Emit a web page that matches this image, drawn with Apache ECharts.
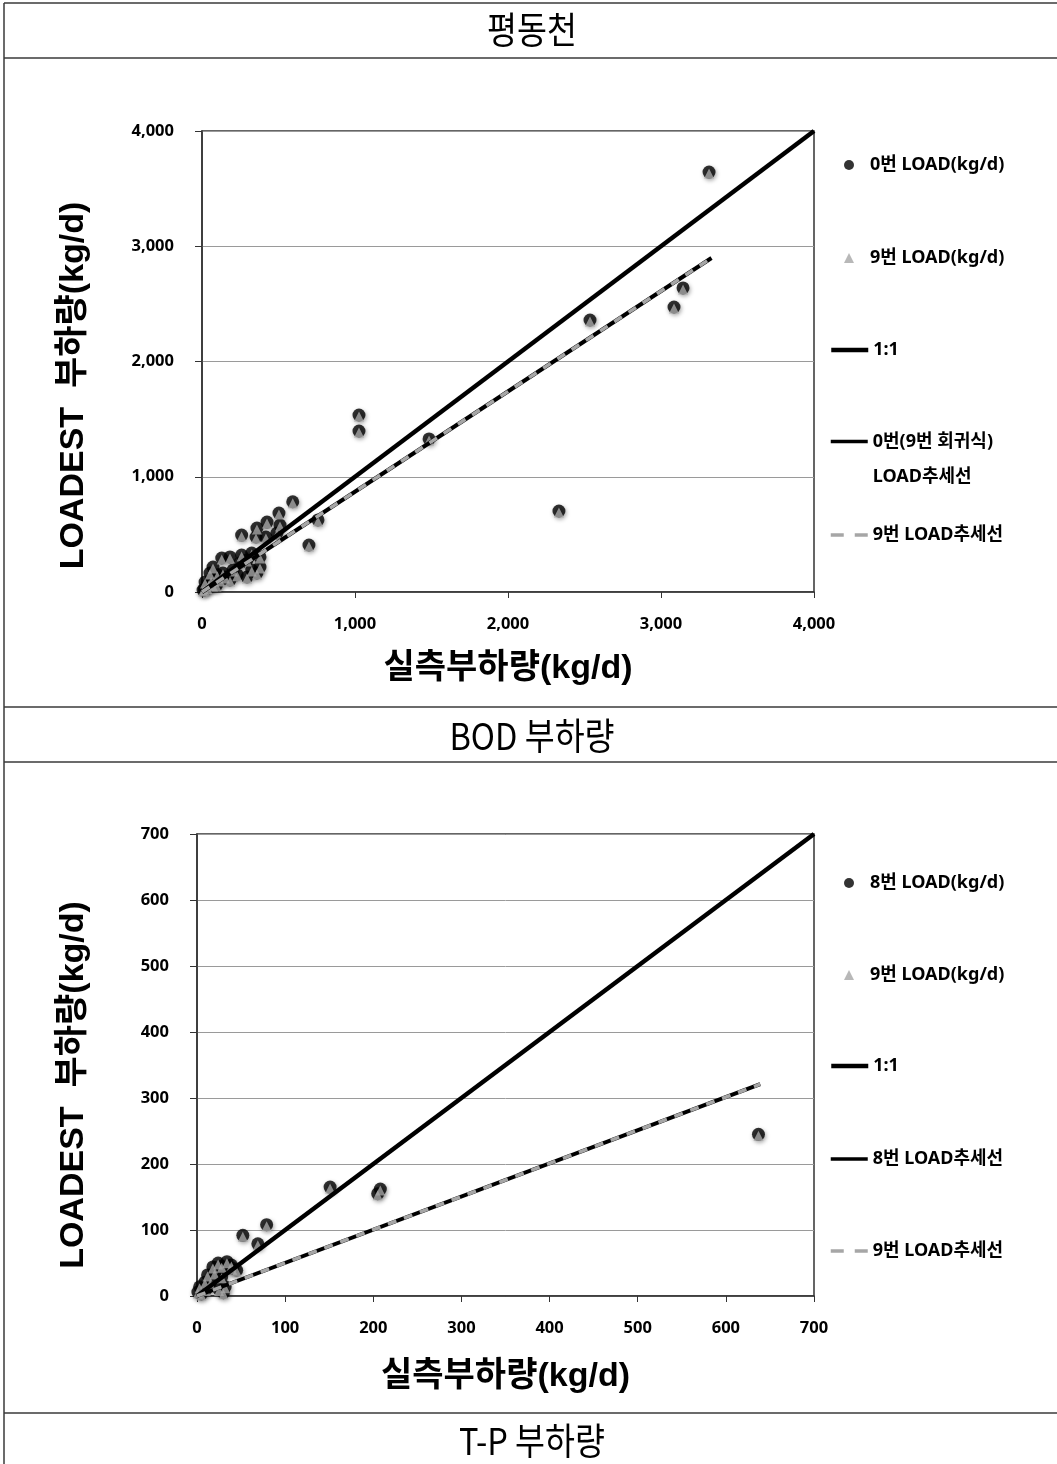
<!DOCTYPE html>
<html>
<head>
<meta charset="utf-8">
<script src="https://cdn.jsdelivr.net/npm/echarts@6/dist/echarts.min.js"></script>
<style>
  html, body { margin: 0; padding: 0; background: #fff; }
  #chart { width: 1057px; height: 1464px; }
</style>
</head>
<body>
<div id="chart"></div>
<script>
// 평동천 – BOD load: observed load vs LOADEST estimate (kg/d)
const bodObserved = [3314, 2536, 3085, 3144, 2333, 1484, 1026, 1026, 758, 699, 593, 503, 425, 359, 259, 490, 418, 353, 510,
  129, 183, 259, 325, 379, 379, 325, 72, 52, 20, 7, 137, 203, 248, 294, 118, 183, 72, 294, 359, 35, 95, 150, 230, 100, 60, 15, 45];
const bodEst0 = [3644, 2360, 2473, 2638, 703, 1328, 1536, 1397, 625, 408, 783, 685, 607, 555, 494, 512, 477, 477, 581,
  295, 304, 321, 338, 304, 217, 191, 217, 165, 87, 17, 165, 191, 252, 278, 104, 104, 61, 130, 165, 40, 60, 130, 150, 150, 100, 25, 70];
const bodEst9 = [3644, 2360, 2473, 2638, 703, 1328, 1536, 1397, 625, 408, 783, 685, 607, 555, 494, 512, 477, 477, 581,
  295, 304, 321, 338, 304, 217, 191, 217, 165, 87, 17, 165, 191, 252, 278, 104, 104, 61, 130, 165, 40, 60, 130, 150, 150, 100, 25, 70];
const bodTrendX = [0, 3330];
const bodTrend0Y = [0, 2898];
const bodTrend9Y = [0, 2898];
const bodTicks = [0, 1000, 2000, 3000, 4000];

// T-P load: observed load vs LOADEST estimate (kg/d)
const tpObserved = [637, 151, 205, 208, 79, 52, 69, 24, 34, 39, 18, 12, 9, 3, 1, 28, 32, 30, 45, 20, 15, 25, 10, 5, 40, 28];
const tpEst8 = [245, 165, 155, 162, 108, 92, 79, 50, 52, 47, 44, 32, 21, 14, 6, 29, 14, 5, 39, 35, 20, 10, 10, 3, 42, 45];
const tpEst9 = [245, 165, 155, 162, 108, 92, 79, 50, 52, 47, 44, 32, 21, 14, 6, 29, 14, 5, 39, 35, 20, 10, 10, 3, 42, 45];
const tpTrendX = [0, 639];
const tpTrend8Y = [0, 321];
const tpTrend9Y = [0, 321];
const tpTicks = [0, 100, 200, 300, 400, 500, 600, 700];

const pairs = (xs, ys) => xs.map((x, i) => [x, ys[i]]);
const diag = ticks => [[ticks[0], ticks[0]], [ticks[ticks.length - 1], ticks[ticks.length - 1]]];

const LATIN = "'Noto Sans', 'Noto Sans CJK KR', sans-serif";
const TITLE_FONT = "'Liberation Sans', 'Noto Sans CJK KR', sans-serif";
const GREY = '#a6a6a6';
const AXIS_COLOR = '#333';

function xAxisFor(grid, ticks, gap) {
  return {
    type: 'value', gridIndex: grid,
    min: ticks[0], max: ticks[ticks.length - 1], interval: ticks[1] - ticks[0],
    name: '실측부하량(kg/d)', nameLocation: 'middle', nameGap: gap,
    nameTextStyle: { fontFamily: TITLE_FONT, fontWeight: 'bold', fontSize: 34, color: '#000' },
    axisLine: { show: true, onZero: false, lineStyle: { color: AXIS_COLOR, width: 1.5 } },
    axisTick: { show: true, inside: false, length: 6, lineStyle: { color: AXIS_COLOR } },
    axisLabel: { margin: 24, fontFamily: LATIN, fontWeight: 'bold', fontSize: 16.5, color: '#000',
      formatter: v => v.toLocaleString('en-US') },
    splitLine: { show: false }
  };
}
function yAxisFor(grid, ticks, gap, shift) {
  return {
    type: 'value', gridIndex: grid,
    min: ticks[0], max: ticks[ticks.length - 1], interval: ticks[1] - ticks[0],
    name: 'LOADEST  부하량(kg/d)', nameLocation: 'middle', nameGap: gap, nameRotate: 90,
    nameTextStyle: { fontFamily: TITLE_FONT, fontWeight: 'bold', fontSize: 34, color: '#000', padding: [0, shift, 0, 0] },
    axisLine: { show: true, onZero: false, lineStyle: { color: AXIS_COLOR, width: 1.5 } },
    axisTick: { show: true, inside: false, length: 7, lineStyle: { color: AXIS_COLOR } },
    axisLabel: { margin: 28, fontFamily: LATIN, fontWeight: 'bold', fontSize: 16.5, color: '#000',
      formatter: v => v.toLocaleString('en-US') },
    splitLine: { show: true, lineStyle: { color: '#9a9a9a', width: 1 } }
  };
}

const markerShadow = { shadowBlur: 4, shadowOffsetX: 1, shadowOffsetY: 2, shadowColor: 'rgba(0,0,0,0.45)' };

// line styles for the plotted lines; legend keys use a longer dash
const lineStyles = [
  { color: '#000', width: 4.5, type: 'solid' },
  { color: '#000', width: 4, type: 'solid' },
  { color: GREY, width: 3.5, type: [9, 8] }
];
const legendLineStyles = [
  { color: '#000', width: 4.5, type: 'solid' },
  { color: '#000', width: 3.5, type: 'solid' },
  { color: GREY, width: 3.5, type: [13, 11] }
];

function seriesFor(idx, names, obs, estA, estB, trendX, trendA, trendB, ticks) {
  return [
    { name: names[0], type: 'scatter', xAxisIndex: idx, yAxisIndex: idx, symbol: 'circle', symbolSize: 13,
      itemStyle: Object.assign({ color: '#000' }, markerShadow), data: pairs(obs, estA), z: 2 },
    { name: names[1], type: 'scatter', xAxisIndex: idx, yAxisIndex: idx, symbol: 'triangle', symbolSize: 10,
      symbolOffset: [0, 1.5], itemStyle: { color: GREY }, data: pairs(obs, estB), z: 3 },
    { name: names[2], type: 'line', xAxisIndex: idx, yAxisIndex: idx, symbol: 'none', silent: true,
      itemStyle: { color: '#000' }, lineStyle: Object.assign({}, lineStyles[0]), data: diag(ticks), z: 4 },
    { name: names[3], type: 'line', xAxisIndex: idx, yAxisIndex: idx, symbol: 'none', silent: true,
      itemStyle: { color: '#000' }, lineStyle: Object.assign({}, lineStyles[1]), data: pairs(trendX, trendA), z: 5 },
    { name: names[4], type: 'line', xAxisIndex: idx, yAxisIndex: idx, symbol: 'none', silent: true,
      itemStyle: { color: GREY }, lineStyle: Object.assign({}, lineStyles[2]), data: pairs(trendX, trendB), z: 6 }
  ];
}

const bodNames = ['0번 LOAD(kg/d)', '9번 LOAD(kg/d)', '1:1', '0번(9번 회귀식) LOAD추세선', '9번 LOAD추세선'];
const tpNames = ['8번 LOAD(kg/d)', '9번 LOAD(kg/d)', '1:1', '8번 LOAD추세선', '9번 LOAD추세선'];

const legendFont = { fontFamily: LATIN, fontWeight: 'bold', fontSize: 18, color: '#000' };

// one legend block per entry so each row sits at its own height
function legendRow(name, centerY, row, twoLine) {
  const isMarker = row < 2;
  const lh = twoLine ? 35 : 20;
  const base = {
    padding: 0, orient: 'vertical', selectedMode: false,
    data: [isMarker ? { name: name, icon: row === 0 ? 'circle' : 'triangle' } : { name: name }]
  };
  if (isMarker) {
    // small square key, text pushed out to line up with the line keys
    return Object.assign(base, {
      left: 844, top: centerY - 10, itemWidth: 10, itemHeight: 10,
      formatter: n => '{t|' + n + '}',
      textStyle: Object.assign({ lineHeight: 20, rich: { t: Object.assign({ padding: [0, 0, 0, 11], lineHeight: 20 }, legendFont) } }, legendFont),
      itemStyle: { shadowBlur: 0, shadowOffsetX: 0, shadowOffsetY: 0 }
    });
  }
  const ls = legendLineStyles[row - 2];
  return Object.assign(base, {
    left: 829, top: twoLine ? centerY - 52 : centerY - 9, itemWidth: 37, itemHeight: 10,
    // a wrapped entry keeps its key level with the first line of text
    formatter: n => twoLine ? '\n' + n.replace(') LOAD', ')\nLOAD') : n,
    textStyle: Object.assign({ lineHeight: lh }, legendFont),
    itemStyle: { opacity: 0 },
    lineStyle: { color: ls.color, width: ls.width, type: ls.type }
  });
}
const bodLegendY = [165, 258, 349, 441, 534];
const tpLegendY = [883, 975, 1065, 1158, 1250];
const legends = bodNames.map((n, i) => legendRow(n, bodLegendY[i], i, i === 3))
  .concat(tpNames.map((n, i) => legendRow(n, tpLegendY[i], i, false)));

// table frame with header rows
const frame = '#3a3a3a';
const hLine = y => ({ type: 'line', shape: { x1: 4, y1: y, x2: 1057, y2: y }, style: { stroke: frame, lineWidth: 1.5 }, silent: true });
const header = (text, y) => ({
  type: 'text', x: 532, y: y, scaleX: 0.88, silent: true,
  style: { text: text, fontFamily: "'Noto Sans CJK KR', sans-serif", fontSize: 37, fontWeight: 'normal',
    fill: '#000', align: 'center', verticalAlign: 'middle' }
});

const chart = echarts.init(document.getElementById('chart'), null, { renderer: 'canvas' });
chart.setOption({
  backgroundColor: '#fff',
  animation: false,
  grid: [
    { left: 202, top: 131, width: 612, height: 461, show: true, borderColor: AXIS_COLOR, borderWidth: 1.5, backgroundColor: 'rgba(0,0,0,0)' },
    { left: 197, top: 834, width: 617, height: 462, show: true, borderColor: AXIS_COLOR, borderWidth: 1.5, backgroundColor: 'rgba(0,0,0,0)' }
  ],
  xAxis: [xAxisFor(0, bodTicks, 60), xAxisFor(1, tpTicks, 64)],
  yAxis: [yAxisFor(0, bodTicks, 111, 48), yAxisFor(1, tpTicks, 106, 40)],
  legend: legends,
  graphic: [
    { type: 'line', shape: { x1: 4, y1: 3, x2: 4, y2: 1464 }, style: { stroke: frame, lineWidth: 1.5 }, silent: true },
    hLine(3), hLine(58), hLine(707), hLine(762), hLine(1413),
    header('평동천', 30), header('BOD 부하량', 736), header('T-P 부하량', 1441)
  ],
  series: seriesFor(0, bodNames, bodObserved, bodEst0, bodEst9, bodTrendX, bodTrend0Y, bodTrend9Y, bodTicks)
    .concat(seriesFor(1, tpNames, tpObserved, tpEst8, tpEst9, tpTrendX, tpTrend8Y, tpTrend9Y, tpTicks))
});
</script>
</body>
</html>
